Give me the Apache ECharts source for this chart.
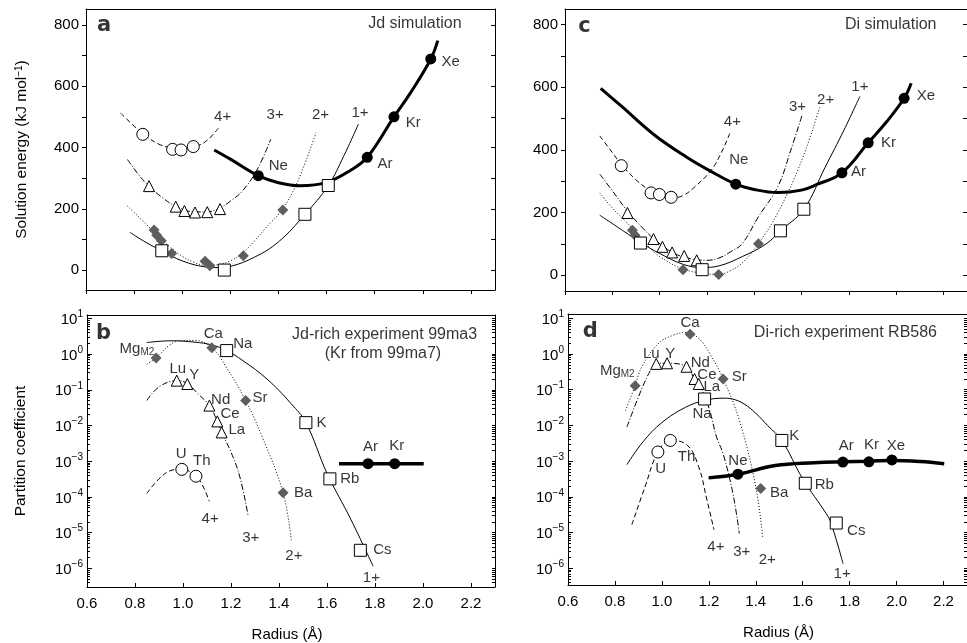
<!DOCTYPE html>
<html>
<head>
<meta charset="utf-8">
<title>Solution energies and partition coefficients</title>
<script src="https://cdn.jsdelivr.net/npm/echarts@6/dist/echarts.min.js"></script>
<style>
  html, body { margin: 0; padding: 0; background: #fff; }
  #chart { width: 967px; height: 643px; }
</style>
</head>
<body>
<div id="chart"></div>
<script>
const FONT = '"Liberation Sans", Arial, Helvetica, sans-serif';

// shared ticks
const radiusTicks = [0.6, 0.8, 1.0, 1.2, 1.4, 1.6, 1.8, 2.0, 2.2];
const energyTicks = [0, 100, 200, 300, 400, 500, 600, 700, 800];
const energyLabels = [0, 200, 400, 600, 800];
const decadeTicks = [1e-6, 1e-5, 1e-4, 1e-3, 1e-2, 1e-1, 1, 10];

// panel a: Jd simulation (radius in Å, solution energy in kJ/mol)
const aNobleCurve = [[1.133, 392], [1.2, 362], [1.316, 308], [1.4, 285], [1.49, 275], [1.6, 286], [1.7, 326], [1.769, 368], [1.88, 500], [1.95, 580], [2.033, 689], [2.062, 749]];
const aNoble = [[1.316, 308], [1.769, 368], [1.88, 500], [2.033, 689]];
const a4Curve = [[0.744, 512], [0.8, 470], [0.85, 437], [0.9, 412], [0.96, 397], [1.0, 393], [1.05, 402], [1.1, 421], [1.15, 463]];
const a4Points = [[0.836, 443], [0.96, 394], [0.995, 392], [1.046, 403]];
const a3Curve = [[0.772, 361], [0.82, 310], [0.86, 275], [0.92, 235], [0.97, 210], [1.05, 190], [1.1, 190], [1.15, 200], [1.2, 225], [1.25, 258], [1.31, 326], [1.368, 427]];
const a3Points = [[0.862, 274], [0.973, 207], [1.009, 193], [1.053, 188], [1.104, 189], [1.157, 199]];
const a2Curve = [[0.772, 209], [0.85, 150], [0.9, 110], [0.95, 75], [1.0, 45], [1.05, 25], [1.1, 15], [1.15, 18], [1.2, 30], [1.25, 55], [1.3, 95], [1.35, 140], [1.418, 200], [1.48, 290], [1.556, 448]];
const a2Points = [[0.883, 131], [0.894, 114], [0.913, 96], [0.956, 54], [1.095, 29], [1.115, 14], [1.254, 47], [1.418, 196]];
const a1Curve = [[0.783, 123], [0.85, 90], [0.915, 63], [1.0, 30], [1.1, 10], [1.15, 8], [1.2, 12], [1.3, 42], [1.4, 92], [1.51, 182], [1.607, 276], [1.67, 370], [1.732, 476]];
const a1Points = [[0.915, 63], [1.175, 0], [1.51, 182], [1.607, 276]];
const aLabels = [
  ['Xe', 2.116, 680], ['Kr', 1.96, 481], ['Ar', 1.843, 348], ['Ne', 1.399, 341],
  ['4+', 1.168, 501], ['3+', 1.386, 506], ['2+', 1.575, 506], ['1+', 1.739, 512]
];

// panel c: Di simulation
const cNobleCurve = [[0.751, 597], [0.84, 539], [0.978, 448], [1.115, 377], [1.219, 331], [1.322, 291], [1.4, 274], [1.5, 264], [1.6, 272], [1.665, 290], [1.771, 327], [1.882, 423], [1.96, 490], [2.034, 565], [2.064, 613]];
const cNoble = [[1.322, 291], [1.771, 327], [1.882, 423], [2.034, 565]];
const c4Curve = [[0.747, 445], [0.8, 392], [0.84, 352], [0.9, 305], [0.96, 270], [1.0, 255], [1.06, 248], [1.1, 255], [1.15, 283], [1.219, 336], [1.26, 390], [1.297, 453]];
const c4Points = [[0.838, 350], [0.964, 263], [0.999, 258], [1.049, 249]];
const c3Curve = [[0.747, 323], [0.8, 270], [0.864, 205], [0.93, 150], [0.974, 118], [1.05, 75], [1.12, 55], [1.2, 48], [1.25, 55], [1.3, 75], [1.349, 101], [1.418, 187], [1.5, 283], [1.555, 400], [1.603, 512]];
const c3Points = [[0.864, 199], [0.974, 116], [1.012, 91], [1.053, 73], [1.104, 62], [1.157, 48]];
const c2Curve = [[0.747, 263], [0.8, 215], [0.885, 150], [0.95, 95], [1.0, 60], [1.1, 20], [1.2, 5], [1.25, 3], [1.3, 15], [1.35, 40], [1.418, 101], [1.5, 200], [1.6, 365], [1.679, 541]];
const c2Points = [[0.885, 144], [0.896, 128], [0.916, 107], [1.099, 18], [1.25, 3], [1.418, 101]];
const c1Curve = [[0.747, 192], [0.85, 140], [0.919, 105], [1.0, 70], [1.1, 35], [1.18, 25], [1.25, 30], [1.35, 60], [1.45, 100], [1.511, 142], [1.61, 211], [1.7, 345], [1.78, 464], [1.847, 571]];
const c1Points = [[0.919, 103], [1.18, 18], [1.511, 142], [1.61, 211]];
const cLabels = [
  ['Xe', 2.126, 573], ['Kr', 1.968, 423], ['Ar', 1.841, 331], ['Ne', 1.335, 368],
  ['4+', 1.308, 491], ['3+', 1.583, 539], ['2+', 1.702, 560], ['1+', 1.847, 601]
];

// panel b: Jd-rich experiment 99ma3 (partition coefficients)
const bNobleLine = [[1.65, 8.5e-4], [2.003, 8.5e-4]];
const bNoble = [[1.771, 8.5e-4], [1.882, 8.5e-4]];
const b4Curve = [[0.849, 1.25e-4], [0.9, 3.2e-4], [0.95, 5.5e-4], [0.995, 6e-4], [1.054, 3.8e-4], [1.08, 2.2e-4], [1.11, 7.5e-5]];
const b4Points = [[0.995, 5.9e-4], [1.054, 3.8e-4]];
const b3Curve = [[0.849, 0.05], [0.9, 0.12], [0.974, 0.18], [1.018, 0.15], [1.06, 0.08], [1.11, 0.036], [1.143, 0.013], [1.161, 0.0064], [1.2, 0.0018], [1.237, 3.6e-4], [1.272, 2.8e-5]];
const b3Points = [[0.974, 0.18], [1.018, 0.145], [1.11, 0.036], [1.143, 0.013], [1.161, 0.0064]];
const b2Curve = [[0.849, 0.52], [0.888, 0.78], [0.94, 1.7], [0.99, 2.4], [1.05, 2.4], [1.12, 1.5], [1.18, 0.43], [1.261, 0.05], [1.33, 0.0048], [1.417, 1.3e-4], [1.452, 5.6e-6]];
const b2Points = [[0.888, 0.77], [1.12, 1.5], [1.261, 0.05], [1.417, 1.3e-4]];
const b1Curve = [[0.849, 2.1], [0.95, 2.35], [1.05, 2.15], [1.12, 1.8], [1.182, 1.25], [1.25, 0.65], [1.35, 0.2], [1.45, 0.041], [1.512, 0.012], [1.6, 4.6e-4], [1.7, 2.3e-5], [1.792, 1.15e-6]];
const b1Points = [[1.182, 1.25], [1.512, 0.012], [1.612, 3.2e-4], [1.739, 3.2e-6]];
const bLabels = [
  ['Mg{sub|M2}', 0.808, 1.38], ['Ca', 1.126, 3.6], ['Na', 1.249, 1.9], ['Lu', 0.978, 0.38],
  ['Y', 1.047, 0.265], ['Nd', 1.157, 0.053], ['Ce', 1.196, 0.0213], ['La', 1.224, 0.0073],
  ['Sr', 1.321, 0.059], ['K', 1.577, 0.012], ['Ar', 1.781, 0.0025], ['Kr', 1.891, 0.00267],
  ['Rb', 1.695, 3.2e-4], ['Ba', 1.501, 1.26e-4], ['Cs', 1.831, 3.2e-6], ['U', 0.992, 1.57e-3],
  ['Th', 1.078, 1.02e-3], ['4+', 1.113, 2.5e-5], ['3+', 1.282, 7.3e-6], ['2+', 1.462, 2.2e-6],
  ['1+', 1.785, 5.4e-7]
];

// panel d: Di-rich experiment RB586
const dNobleCurve = [[1.199, 3.4e-4], [1.324, 4.3e-4], [1.483, 7.5e-4], [1.65, 9.0e-4], [1.771, 9.6e-4], [1.882, 1.0e-3], [1.98, 1.05e-3], [2.1, 9.8e-4], [2.203, 8.5e-4]];
const dNoble = [[1.324, 4.3e-4], [1.771, 9.4e-4], [1.882, 9.6e-4], [1.98, 1.08e-3]];
const d4Curve = [[0.872, 1.65e-5], [0.928, 1.9e-4], [0.983, 1.8e-3], [1.036, 3.8e-3], [1.108, 2.8e-3], [1.157, 6.9e-4], [1.192, 8.2e-5], [1.222, 1.2e-5]];
const d4Points = [[0.983, 1.8e-3], [1.036, 3.8e-3]];
const d3Curve = [[0.851, 0.009], [0.914, 0.105], [0.955, 0.38], [0.976, 0.53], [1.022, 0.55], [1.105, 0.44], [1.139, 0.2], [1.157, 0.145], [1.178, 0.076], [1.205, 0.025], [1.233, 0.0047], [1.261, 0.0016], [1.303, 1.2e-4], [1.33, 9.3e-6]];
const d3Points = [[0.976, 0.53], [1.022, 0.55], [1.105, 0.44], [1.139, 0.2], [1.157, 0.145]];
const d2Curve = [[0.845, 0.026], [0.886, 0.13], [0.914, 0.43], [0.983, 1.9], [1.05, 3.4], [1.108, 4.0], [1.16, 2.6], [1.205, 1.0], [1.261, 0.2], [1.33, 0.014], [1.4, 1.9e-4], [1.43, 6.9e-6]];
const d2Points = [[0.886, 0.13], [1.12, 3.6], [1.261, 0.2], [1.421, 1.7e-4]];
const d1Curve = [[0.851, 8e-4], [0.92, 0.0035], [1.0, 0.012], [1.1, 0.032], [1.182, 0.05], [1.261, 0.058], [1.3, 0.055], [1.35, 0.04], [1.4, 0.022], [1.45, 0.01], [1.511, 0.0038], [1.6, 3.2e-4], [1.7, 3.4e-5], [1.72, 1.9e-5], [1.772, 1.35e-6]];
const d1Points = [[1.182, 0.055], [1.511, 0.0038], [1.611, 2.4e-4], [1.743, 1.85e-5]];
const dLabels = [
  ['Ca', 1.12, 7.6], ['Lu', 0.955, 1.0], ['Y', 1.036, 1.0], ['Mg{sub|M2}', 0.81, 0.34],
  ['Nd', 1.164, 0.58], ['Ce', 1.192, 0.264], ['La', 1.2125, 0.122], ['Sr', 1.33, 0.222],
  ['Na', 1.171, 0.0211], ['K', 1.564, 0.0052], ['Ar', 1.786, 2.75e-3], ['Kr', 1.893, 2.9e-3],
  ['Xe', 1.997, 2.75e-3], ['Th', 1.105, 1.35e-3], ['U', 0.995, 6.1e-4], ['Ne', 1.324, 1.05e-3],
  ['Rb', 1.692, 2.1e-4], ['Ba', 1.5, 1.28e-4], ['Cs', 1.828, 1.1e-5], ['4+', 1.23, 4.0e-6],
  ['3+', 1.34, 2.8e-6], ['2+', 1.449, 1.76e-6], ['1+', 1.768, 6.8e-7]
];

const logMinorTicks = [];
for (let e = -7; e <= 1; e++) {
  for (let k = 1; k <= 9; k++) {
    const v = k * Math.pow(10, e);
    if (v > 3.5e-7 && v < 12) logMinorTicks.push(v);
  }
}

const chart = echarts.init(document.getElementById('chart'));

const textBase = { fontFamily: FONT, color: '#000' };
const richText = {
  sub: { fontFamily: FONT, fontSize: 10, color: '#000', padding: [7, 0, 0, 0] },
  sup: { fontFamily: FONT, fontSize: 10, color: '#000', verticalAlign: 'top', padding: [0, 0, 6, 0] }
};

const grids = [];
const xAxes = [];
const yAxes = [];
const series = [];

function frameAxis(extra) {
  return Object.assign({
    axisLine: { onZero: false, lineStyle: { color: '#000', width: 1 } },
    splitLine: { show: false },
    axisLabel: { show: false },
    axisTick: { show: false }
  }, extra);
}

function addLinearPanel(grid, yMin, yMax, yName) {
  const g = grids.length;
  grids.push(grid);
  const x = xAxes.length;
  xAxes.push(frameAxis({
    gridIndex: g, type: 'value', min: 0.6, max: 2.3, position: 'bottom',
    axisTick: { show: true, inside: false, length: 4, customValues: radiusTicks, lineStyle: { color: '#000' } }
  }));
  xAxes.push(frameAxis({ gridIndex: g, type: 'value', min: 0.6, max: 2.3, position: 'top' }));
  const y = yAxes.length;
  yAxes.push(frameAxis({
    gridIndex: g, type: 'value', min: yMin, max: yMax, position: 'left',
    axisTick: { show: true, inside: false, length: 4, customValues: energyTicks, lineStyle: { color: '#000' } },
    axisLabel: Object.assign({ show: true, fontSize: 15, margin: 7, customValues: energyLabels }, textBase),
    name: yName, nameLocation: 'middle', nameGap: 56,
    nameTextStyle: Object.assign({ fontSize: 15.5, rich: { sup: richText.sup } }, textBase)
  }));
  yAxes.push(frameAxis({
    gridIndex: g, type: 'value', min: yMin, max: yMax, position: 'right',
    axisTick: { show: true, inside: true, length: 4, customValues: energyTicks, lineStyle: { color: '#000' } }
  }));
  return { x, y };
}

function logLabel(v) {
  const e = Math.round(Math.log10(v));
  return '{b|10}{sup|' + String(e).replace('-', '\u2212') + '}';
}

function addLogPanel(grid, yMin, yMax, yName, namePadding) {
  const g = grids.length;
  grids.push(grid);
  const x = xAxes.length;
  xAxes.push(frameAxis({
    gridIndex: g, type: 'value', min: 0.6, max: 2.3, position: 'bottom',
    axisTick: { show: true, inside: true, length: 4, customValues: radiusTicks, lineStyle: { color: '#000' } },
    axisLabel: Object.assign({
      show: true, fontSize: 15, margin: 9, customValues: radiusTicks,
      formatter: (v) => v.toFixed(1)
    }, textBase),
    name: 'Radius (\u00c5)', nameLocation: 'middle', nameGap: 40,
    nameTextStyle: Object.assign({ fontSize: 15, padding: namePadding }, textBase)
  }));
  xAxes.push(frameAxis({ gridIndex: g, type: 'value', min: 0.6, max: 2.3, position: 'top' }));
  const y = yAxes.length;
  yAxes.push(frameAxis({
    gridIndex: g, type: 'log', logBase: 10, min: yMin, max: yMax, position: 'left',
    axisTick: { show: true, inside: true, length: 5, customValues: decadeTicks, lineStyle: { color: '#000' } },
    axisLabel: Object.assign({
      show: true, margin: 4, customValues: decadeTicks, formatter: logLabel, lineHeight: 18,
      rich: {
        b: { fontFamily: FONT, fontSize: 15, color: '#000', verticalAlign: 'bottom' },
        sup: { fontFamily: FONT, fontSize: 10, color: '#000', verticalAlign: 'top' }
      }
    }, textBase),
    name: yName, nameLocation: 'middle', nameGap: 58,
    nameTextStyle: Object.assign({ fontSize: 15.5 }, textBase)
  }));
  yAxes.push(frameAxis({
    gridIndex: g, type: 'log', logBase: 10, min: yMin, max: yMax, position: 'left', axisLine: { show: false, onZero: false },
    axisTick: { show: true, inside: true, length: 3, customValues: logMinorTicks, lineStyle: { color: '#000' } }
  }));
  yAxes.push(frameAxis({
    gridIndex: g, type: 'log', logBase: 10, min: yMin, max: yMax, position: 'right',
    axisTick: { show: true, inside: true, length: 3, customValues: logMinorTicks, lineStyle: { color: '#000' } }
  }));
  return { x, y };
}

function curve(p, data, dash, width) {
  series.push({
    type: 'line', xAxisIndex: p.x, yAxisIndex: p.y, data, smooth: 0.4, symbol: 'none',
    silent: true, z: 2,
    lineStyle: { color: '#000', width: width || 1, type: dash || 'solid' }
  });
}

function markers(p, data, symbol, size, fill, stroke) {
  series.push({
    type: 'scatter', xAxisIndex: p.x, yAxisIndex: p.y, data, symbol, symbolSize: size,
    silent: true, z: 3,
    itemStyle: { color: fill, borderColor: stroke || fill, borderWidth: stroke ? 1 : 0, opacity: 1 }
  });
}

function labels(p, items, extra) {
  series.push({
    type: 'scatter', xAxisIndex: p.x, yAxisIndex: p.y, symbolSize: 1, silent: true, z: 4,
    itemStyle: { color: 'rgba(0,0,0,0)' },
    data: items.map((d) => ({ name: d[0], value: [d[1], d[2]], label: d[3] || {} })),
    label: Object.assign({
      show: true, position: 'inside', fontSize: 15, formatter: (q) => q.name,
      rich: { sub: richText.sub }
    }, textBase, extra || {})
  });
}

const dash4 = [5, 3];
const dash3 = [6, 2, 1, 2];
const dash2 = [1, 2];

function drawSimulation(p, s) {
  curve(p, s.c4, dash4);
  curve(p, s.c3, dash3);
  curve(p, s.c2, dash2);
  curve(p, s.c1, 'solid');
  curve(p, s.noble, 'solid', s.nobleWidth || 3);
  markers(p, s.p4, 'circle', 12, '#fff', '#000');
  markers(p, s.p3, 'triangle', 11, '#fff', '#000');
  markers(p, s.p2, 'diamond', 11, '#5e5e5e');
  markers(p, s.p1, 'rect', 12, '#fff', '#000');
  markers(p, s.nobleDots, 'circle', 11, '#000');
}

const pa = addLinearPanel({ left: 86, top: 9, right: 472, height: 281 }, -65, 852,
  'Solution energy (kJ mol{sup|\u22121})');
const pb = addLogPanel({ left: 87, top: 315, right: 472, height: 273 }, 3.0e-7, 12.4, 'Partition coefficient', [0, 8, 0, 0]);
const pc = addLinearPanel({ left: 565, top: 9, right: -11, height: 282 }, -50, 850, '');
const pd = addLogPanel({ left: 568, top: 314, right: -9, height: 271 }, 3.4e-7, 13.2, '', [0, 0, 0, 22]);

drawSimulation(pa, {
  c4: a4Curve, c3: a3Curve, c2: a2Curve, c1: a1Curve, noble: aNobleCurve,
  p4: a4Points, p3: a3Points, p2: a2Points, p1: a1Points, nobleDots: aNoble
});
drawSimulation(pc, {
  c4: c4Curve, c3: c3Curve, c2: c2Curve, c1: c1Curve, noble: cNobleCurve,
  p4: c4Points, p3: c3Points, p2: c2Points, p1: c1Points, nobleDots: cNoble
});
drawSimulation(pb, {
  c4: b4Curve, c3: b3Curve, c2: b2Curve, c1: b1Curve, noble: bNobleLine, nobleWidth: 3.5,
  p4: b4Points, p3: b3Points, p2: b2Points, p1: b1Points, nobleDots: bNoble
});
drawSimulation(pd, {
  c4: d4Curve, c3: d3Curve, c2: d2Curve, c1: d1Curve, noble: dNobleCurve, nobleWidth: 3.5,
  p4: d4Points, p3: d3Points, p2: d2Points, p1: d1Points, nobleDots: dNoble
});

const letterStyle = { fontSize: 21, fontWeight: 'bold', fontFamily: '"DejaVu Sans", ' + FONT };
labels(pa, aLabels.concat([
  ['a', 0.675, 797, letterStyle],
  ['Jd simulation', 2.161, 803, { align: 'right', fontSize: 16 }]
]));
labels(pc, cLabels.concat([
  ['c', 0.682, 795, letterStyle],
  ['Di simulation', 2.171, 800, { align: 'right', fontSize: 16 }]
]));
labels(pb, bLabels.concat([
  ['b', 0.669, 3.85, letterStyle],
  ['Jd-rich experiment 99ma3', 1.84, 3.6, { fontSize: 16 }],
  ['(Kr from 99ma7)', 1.833, 1.0, { fontSize: 16 }]
]));
labels(pd, dLabels.concat([
  ['d', 0.695, 4.3, letterStyle],
  ['Di-rich experiment RB586', 1.782, 4.0, { fontSize: 16 }]
]));

chart.setOption({
  animation: false,
  backgroundColor: '#fff',
  textStyle: { fontFamily: FONT },
  grid: grids,
  xAxis: xAxes,
  yAxis: yAxes,
  series
});
</script>
</body>
</html>
